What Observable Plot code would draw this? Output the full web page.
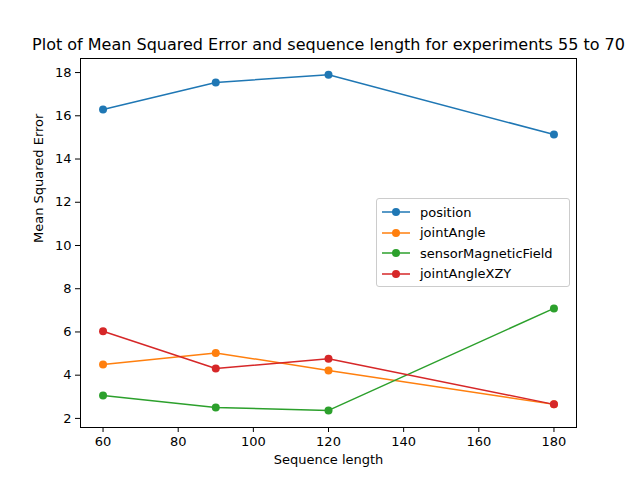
<!DOCTYPE html>
<html><head><meta charset="utf-8">
<script src="https://cdn.jsdelivr.net/npm/d3@7"></script>
<script src="https://cdn.jsdelivr.net/npm/@observablehq/plot@0.6"></script>
<style>
body{margin:0;background:#fff;font-family:"DejaVu Sans",sans-serif}
#wrap{position:relative;width:640px;height:480px}
#legend{position:absolute;left:376px;top:198px;width:194px;height:89px;border:1px solid #ccc;border-radius:3px;background:rgba(255,255,255,0.8);font-size:13px;box-sizing:border-box;padding:3px 0 0 4px}
#legend div{display:flex;align-items:center;height:20.5px}
#legend svg{margin-right:9px}
</style></head><body>
<div id="wrap"><div id="chart"></div><div id="legend"></div></div>
<script>
const seqLen = [60, 90, 120, 180]
const series = ['position', 'jointAngle', 'sensorMagneticField', 'jointAngleXZY']
const colors = ['#1f77b4', '#ff7f0e', '#2ca02c', '#d62728']
const position = [16.29, 17.54, 17.9, 15.13]
const jointAngle = [4.5, 5.03, 4.22, 2.65]
const sensorMagneticField = [3.06, 2.51, 2.37, 7.09]
const jointAngleXZY = [6.03, 4.31, 4.76, 2.65]
const yTicks = [2, 4, 6, 8, 10, 12, 14, 16, 18]
const xTicks = [60, 80, 100, 120, 140, 160, 180]

const vals = [position, jointAngle, sensorMagneticField, jointAngleXZY]
const data = series.flatMap((s, i) => seqLen.map((x, j) => ({s, x, y: vals[i][j]})))

const chart = Plot.plot({
  width: 640, height: 480,
  marginLeft: 80, marginRight: 64, marginTop: 58, marginBottom: 53,
  style: {fontFamily: 'DejaVu Sans', fontSize: '13px', color: '#000'},
  x: {domain: [54, 186], ticks: xTicks, label: null, tickSize: 5},
  y: {domain: [1.58, 18.65], ticks: yTicks, label: null, tickSize: 5},
  color: {domain: series, range: colors},
  marks: [
    Plot.frame({stroke: '#000'}),
    Plot.line(data, {x: 'x', y: 'y', z: 's', stroke: 's', strokeWidth: 1.5}),
    Plot.dot(data, {x: 'x', y: 'y', fill: 's', r: 4}),
    Plot.text(['Plot of Mean Squared Error and sequence length for experiments 55 to 70'],
      {frameAnchor: 'top', dy: -20, fontSize: 16}),
    Plot.text(['Sequence length'], {frameAnchor: 'bottom', dy: 36}),
    Plot.text(['Mean Squared Error'], {frameAnchor: 'left', dx: -42, rotate: -90})
  ]
})
d3.select('#chart').append(() => chart)

const leg = d3.select('#legend')
series.forEach((s, i) => {
  const row = leg.append('div')
  const sv = row.append('svg').attr('width', 30).attr('height', 12)
  sv.append('line').attr('x1', 1).attr('x2', 29).attr('y1', 6).attr('y2', 6).attr('stroke', colors[i]).attr('stroke-width', 1.5)
  sv.append('circle').attr('cx', 15).attr('cy', 6).attr('r', 4).attr('fill', colors[i])
  row.append('span').text(s)
})
</script></body></html>
